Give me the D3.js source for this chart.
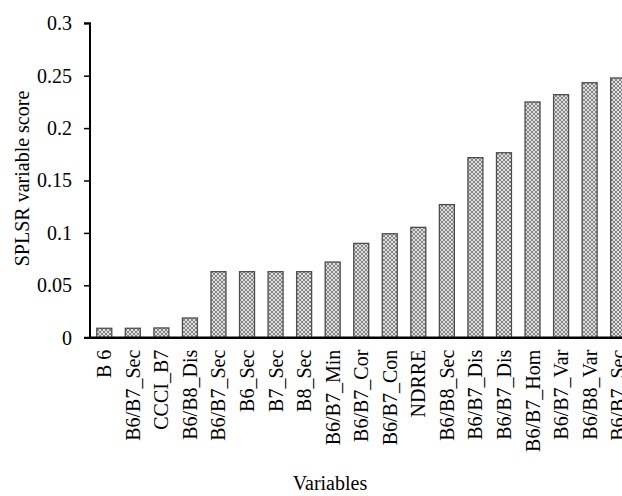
<!DOCTYPE html>
<html>
<head>
<meta charset="utf-8">
<script src="https://cdn.jsdelivr.net/npm/d3@7"></script>
<style>
  html, body { margin: 0; padding: 0; background: #fff; overflow: hidden; }
  svg text { font-family: "Liberation Serif", "Times New Roman", serif; fill: #000; }
</style>
</head>
<body>
<svg id="chart" width="622" height="496"></svg>
<script>
// variable names, in plotted order
const variables = [
  "B 6", "B6/B7_Sec", "CCCI_B7", "B6/B8_Dis", "B6/B7_Sec", "B6_Sec", "B7_Sec",
  "B8_Sec", "B6/B7_Min", "B6/B7_Cor", "B6/B7_Con", "NDRRE", "B6/B8_Sec",
  "B6/B7_Dis", "B6/B7_Dis", "B6/B7_Hom", "B6/B7_Var", "B6/B8_Var", "B6/B7_Sec"
];
// SPLSR variable scores
const scores = [
  0.009, 0.009, 0.0093, 0.0188, 0.063, 0.063, 0.063, 0.063, 0.0722, 0.090,
  0.0992, 0.1053, 0.127, 0.1718, 0.1765, 0.2249, 0.2319, 0.2433, 0.2478
];
const yTicks = [0, 0.05, 0.1, 0.15, 0.2, 0.25, 0.3];

const svg = d3.select("#chart");
const plotLeft = 90, plotTop = 23.3, plotBottom = 337.7;
const step = 28.55;

// hatch fill like the spreadsheet pattern
const defs = svg.append("defs");
const pat = defs.append("pattern")
  .attr("id", "hatch")
  .attr("patternUnits", "userSpaceOnUse")
  .attr("width", 4).attr("height", 4);
pat.append("rect").attr("width", 4).attr("height", 4).attr("fill", "#e0e0e0");
pat.append("path").attr("d", "M0,0 L4,4 M4,0 L0,4")
  .attr("stroke", "#7a7a7a").attr("stroke-width", 0.9);

const idx = d3.range(variables.length);
const x = d3.scaleBand()
  .domain(idx)
  .range([plotLeft, plotLeft + step * variables.length])
  .paddingInner(0.475)
  .paddingOuter(0.2375);
const y = d3.scaleLinear().domain([0, 0.3]).range([plotBottom, plotTop]);

// bars
svg.append("g").selectAll("rect")
  .data(idx)
  .join("rect")
  .attr("x", (i) => x(i))
  .attr("y", (i) => y(scores[i]))
  .attr("width", x.bandwidth())
  .attr("height", (i) => y(0) - y(scores[i]))
  .attr("fill", "url(#hatch)")
  .attr("stroke", "#4d4d4d")
  .attr("stroke-width", 1.3);

// y axis
const yAxis = svg.append("g")
  .attr("transform", `translate(${plotLeft},0)`)
  .call(d3.axisLeft(y).tickValues(yTicks).tickSize(6).tickPadding(12)
    .tickFormat((d) => String(d)));
yAxis.select(".domain").attr("stroke", "#000").attr("stroke-width", 2)
  .attr("d", `M${-6},${plotTop}H0V${plotBottom}H-6`);
yAxis.selectAll(".tick line").attr("stroke", "#000").attr("stroke-width", 1.5);
yAxis.selectAll(".tick text").attr("font-size", 20)
  .style("font-family", "'Liberation Serif', serif");

// x axis
const xAxis = svg.append("g")
  .attr("transform", `translate(0,${plotBottom})`)
  .call(d3.axisBottom(x).tickSize(0).tickFormat((i) => variables[i]));
xAxis.select(".domain").attr("stroke", "#000").attr("stroke-width", 2.5)
  .attr("d", `M${plotLeft},0H622`);
xAxis.selectAll(".tick text")
  .attr("font-size", 20)
  .style("font-family", "'Liberation Serif', serif")
  .attr("text-anchor", "end")
  .attr("transform", "rotate(-90)")
  .attr("x", -12)
  .attr("y", 0)
  .attr("dy", "0.35em");

// axis titles
svg.append("text")
  .attr("transform", `translate(22,${(plotTop + plotBottom) / 2 - 2}) rotate(-90)`)
  .attr("text-anchor", "middle")
  .attr("dy", "0.35em")
  .attr("font-size", 20)
  .text("SPLSR variable score");

svg.append("text")
  .attr("x", 330)
  .attr("y", 490)
  .attr("text-anchor", "middle")
  .attr("font-size", 20)
  .text("Variables");
</script>
</body>
</html>
